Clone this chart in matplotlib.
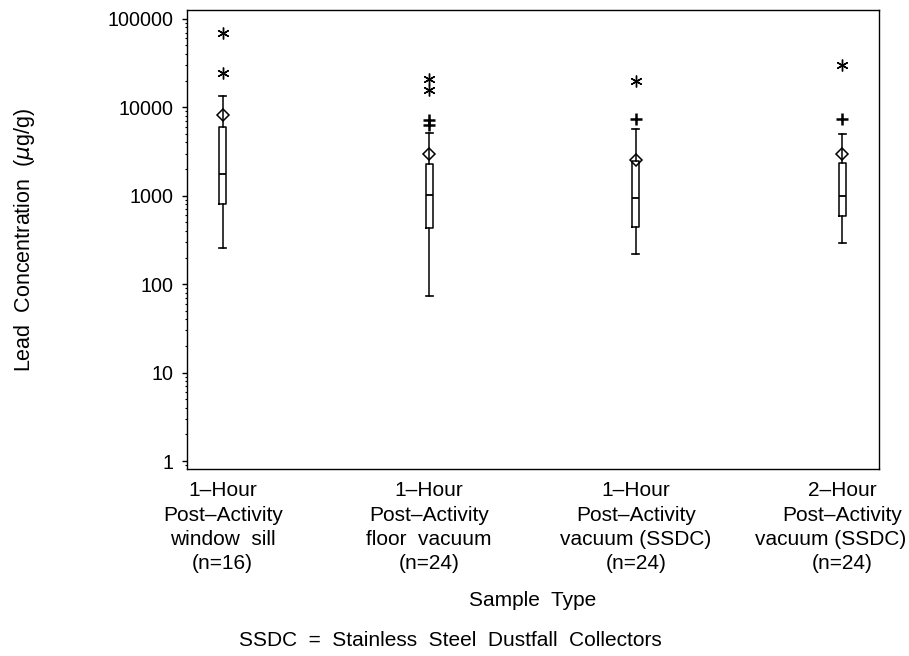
import matplotlib
matplotlib.use("Agg")
import matplotlib.pyplot as plt
import numpy as np

plt.rcParams['font.family'] = ['Liberation Sans', 'DejaVu Sans']
plt.rcParams['font.size'] = 15

# values (ug/g)
labels = ["1\u2013Hour\nPost\u2013Activity\nwindow  sill\n(n=16)",
          "1\u2013Hour\nPost\u2013Activity\nfloor  vacuum\n(n=24)",
          "1\u2013Hour\nPost\u2013Activity\nvacuum (SSDC)\n(n=24)",
          "2\u2013Hour\nPost\u2013Activity\nvacuum (SSDC)\n(n=24)"]
whisk_lo = [258, 73, 222, 294]
q1 = [813, 435, 446, 589]
median = [1750, 1030, 942, 993]
q3 = [5920, 2270, 2470, 2330]
whisk_hi = [13500, 5060, 5610, 4970]
means = [8160, 2950, 2520, 3000]
# moderate outliers (+) and far outliers (*)
plus_out = [[], [7220, 6290], [7350], [7290]]
star_out = [[68900, 24200], [20900, 15800], [19970], [30300]]

stats = []
for i in range(len(labels)):
    stats.append(dict(whislo=whisk_lo[i], q1=q1[i], med=median[i], q3=q3[i],
                      whishi=whisk_hi[i], mean=means[i], fliers=[]))

fig = plt.figure(figsize=(9.09, 6.56), dpi=100)
ax = fig.add_axes([187/909, 1-469/656, 692/909, 459/656])

pos = np.arange(1, len(labels) + 1)
ax.bxp(stats, positions=pos, widths=0.034, showmeans=True, showfliers=False,
       boxprops=dict(color='black', linewidth=1.1),
       medianprops=dict(color='black', linewidth=1.3),
       whiskerprops=dict(color='black', linewidth=1.1),
       capprops=dict(color='black', linewidth=1.2),
       capwidths=0.034,
       meanprops=dict(marker='D', markerfacecolor='none', markeredgecolor='black',
                      markersize=6, markeredgewidth=1.1))

for i, p in enumerate(pos):
    if plus_out[i]:
        ax.plot([p]*len(plus_out[i]), plus_out[i], linestyle='none', marker='+',
                color='black', markersize=8, markeredgewidth=1.8)
    ax.plot([p]*len(star_out[i]), star_out[i], linestyle='none', marker=(6, 2, 0),
            color='black', markersize=8.5, markeredgewidth=1.0)

ax.set_yscale('log')
ax.set_ylim(10**-0.09, 10**5.10)
ax.set_xlim(0.827, 4.178)
ax.set_yticks([1, 10, 100, 1000, 10000, 100000])
ax.set_yticklabels(['1', '10', '100', '1000', '10000', '100000'], fontsize=14.2)
ax.tick_params(axis='y', which='major', length=3.6, width=1, pad=6)
ax.tick_params(axis='y', which='minor', length=1.6, width=0.8)
ax.set_xticks(pos)
ax.set_xticklabels([])
ax.tick_params(axis='x', length=0)
for s in ax.spines.values():
    s.set_linewidth(1)

# category labels line by line, so a line that runs past the edge can be nudged
line_texts = []
for p, lab in zip(pos, labels):
    for k, line in enumerate(lab.split("\n")):
        t = ax.annotate(line, xy=(p, 0), xycoords=('data', 'axes fraction'),
                        xytext=(0, -9 - k * 17.3), textcoords='offset points',
                        ha='center', va='top', annotation_clip=False)
        line_texts.append(t)
fig.canvas.draw()
r = fig.canvas.get_renderer()
for t in line_texts:
    bb = t.get_window_extent(r)
    if bb.x1 > fig.bbox.width - 3:
        dx = (bb.x1 - (fig.bbox.width - 3)) * 72 / fig.dpi
        x0, y0 = t.xyann
        t.xyann = (x0 - dx, y0)

fig.text(25/909, 1-240/656, "Lead  Concentration  ($\\mu$g/g)", rotation=90,
         ha='center', va='center', fontsize=15.5)
fig.text(533/909, 1-600/656, "Sample  Type", ha='center', va='center')
fig.text(450/909, 1-641/656, "SSDC  =  Stainless  Steel  Dustfall  Collectors",
         ha='center', va='center')

fig.savefig("out.png", dpi=100)
